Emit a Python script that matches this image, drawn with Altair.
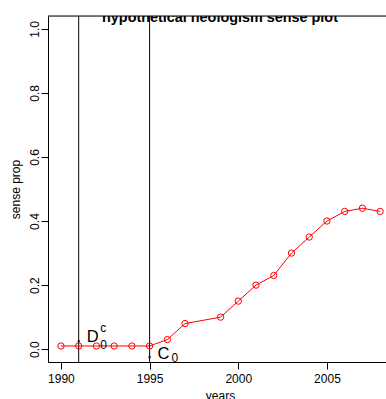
import altair as alt
import pandas as pd

# sense proportion per year
years = [1990, 1991, 1992, 1993, 1994, 1995, 1996, 1997, 1999, 2000,
         2001, 2002, 2003, 2004, 2005, 2006, 2007, 2008]
sense_prop = [0.01, 0.01, 0.01, 0.01, 0.01, 0.01, 0.03, 0.08, 0.10, 0.15,
              0.20, 0.23, 0.30, 0.35, 0.40, 0.43, 0.44, 0.43]

# vertical reference years
marker_years = [1991, 1995]

# annotation anchors (year, value) and their labels
anno_years = [1991, 1995]
anno_values = [0.025, -0.025]
anno_main = ["D", "C"]
anno_sub = ["0", "0"]
anno_sup = ["c", ""]

x_ticks = [1990, 1995, 2000, 2005]
y_ticks = [0.0, 0.2, 0.4, 0.6, 0.8, 1.0]

W, H = 338, 346
FONT = "Liberation Sans"

series = pd.DataFrame({"year": years, "prop": sense_prop})
markers = pd.DataFrame({"year": marker_years})
anno = pd.DataFrame({"year": anno_years, "prop": anno_values,
                     "main": anno_main, "sub": anno_sub, "sup": anno_sup})

x_scale = alt.Scale(domain=[1989.27, 2008.33], nice=False, zero=False)
y_scale = alt.Scale(domain=[-0.04, 1.04], nice=False, zero=False)

x_enc = alt.X("year:Q", scale=x_scale, title="years",
              axis=alt.Axis(values=x_ticks, format="d", grid=False,
                            domainColor="black", tickColor="black",
                            tickSize=7, labelPadding=4, labelFontSize=12,
                            labelFont=FONT, labelColor="black",
                            titleFont=FONT, titleFontSize=12,
                            titleFontWeight="normal", titleColor="black",
                            titleX=172, titleY=37.5, titleBaseline="alphabetic",
                            titleAlign="center"))
y_enc = alt.Y("prop:Q", scale=y_scale, title="sense prop",
              axis=alt.Axis(values=y_ticks, format=".1f", grid=False,
                            domainColor="black", tickColor="black",
                            tickSize=7, labelPadding=2.5, labelFontSize=12,
                            labelFont=FONT, labelColor="black",
                            labelAngle=270, labelAlign="center",
                            labelBaseline="alphabetic",
                            titleFont=FONT, titleFontSize=12,
                            titleFontWeight="normal", titleColor="black",
                            titleAngle=270, titleX=-29, titleY=173,
                            titleBaseline="alphabetic", titleAlign="center"))

vlines = alt.Chart(markers).mark_rule(color="black", strokeWidth=1).encode(
    x=alt.X("year:Q", scale=x_scale)
)

line = alt.Chart(series).mark_line(color="red", strokeWidth=1).encode(x=x_enc, y=y_enc)

points = alt.Chart(series).mark_point(
    shape="circle", filled=False, color="red", size=40, strokeWidth=1, opacity=1
).encode(x="year:Q", y="prop:Q")

dots = alt.Chart(anno).mark_point(
    shape="square", filled=True, color="black", size=4, opacity=1
).encode(x="year:Q", y="prop:Q")


def label_layer(idx, field, size, dx, dy):
    return alt.Chart(anno).transform_filter(
        alt.datum.year == anno_years[idx]
    ).mark_text(font=FONT, fontSize=size, color="black", align="left",
                baseline="alphabetic", dx=dx, dy=dy).encode(
        x="year:Q", y="prop:Q", text=f"{field}:N"
    )


labels = [
    label_layer(0, "main", 16.5, 8, 0.5),
    label_layer(0, "sup", 12, 21.5, -9.5),
    label_layer(0, "sub", 12, 21.5, 8),
    label_layer(1, "main", 16.5, 8, 2),
    label_layer(1, "sub", 12, 22, 4.5),
]

title = alt.Chart(pd.DataFrame({"t": ["hypothetical neologism sense plot"]})).mark_text(
    font=FONT, fontSize=14.4, fontWeight="bold", color="black",
    align="center", baseline="alphabetic", clip=True
).encode(x=alt.value(172), y=alt.value(5.5), text="t:N")

top_border = alt.Chart(pd.DataFrame({"k": [0]})).mark_rule(
    color="black", strokeWidth=1
).encode(x=alt.value(0), x2=alt.value(W), y=alt.value(0))

chart = alt.layer(
    vlines, line, points, dots, *labels, title, top_border
).properties(
    width=W, height=H,
    autosize=alt.AutoSizeParams(type="none"),
    padding={"left": 48, "top": 16, "right": 0, "bottom": 37},
).configure_view(stroke=None).configure(background="white")

chart.save("out.html", embed_options={"renderer": "svg", "actions": False})
